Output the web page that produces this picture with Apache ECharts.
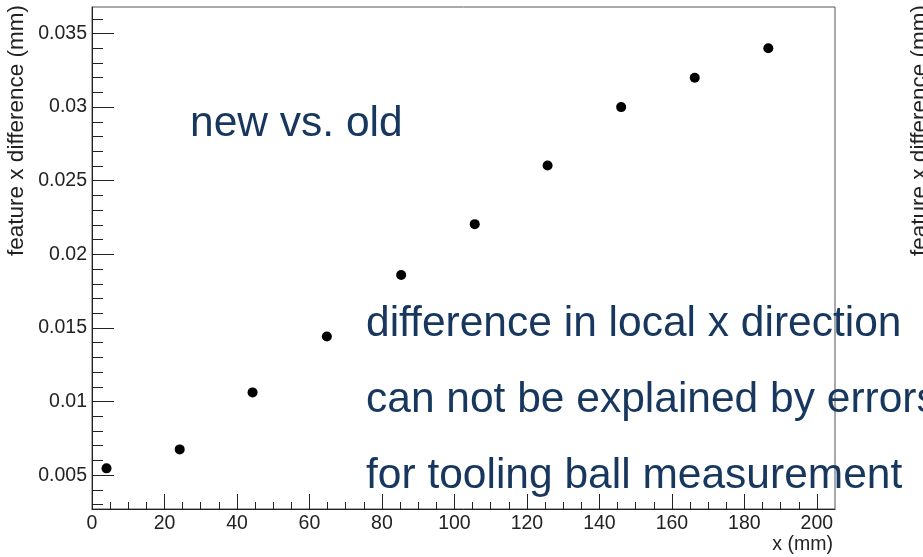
<!DOCTYPE html>
<html>
<head>
<meta charset="utf-8">
<script src="https://cdn.jsdelivr.net/npm/echarts@6/dist/echarts.min.js"></script>
<style>html,body{margin:0;padding:0;background:#fff}#c{width:923px;height:557px}</style>
</head>
<body>
<div id="c"></div>
<script>
// ---- data ----
const xValues = [4.0, 24.2, 44.3, 64.8, 85.3, 105.6, 125.7, 146.0, 166.3, 186.6];
const yValues = [0.00546, 0.00675, 0.01062, 0.01442, 0.0186, 0.02205, 0.02603, 0.0300, 0.0320, 0.0340];
const xMajorTicks = [0, 20, 40, 60, 80, 100, 120, 140, 160, 180, 200];
const xMinorTicks = [0, 5, 10, 15, 20, 25, 30, 35, 40, 45, 50, 55, 60, 65, 70, 75, 80, 85, 90, 95, 100,
  105, 110, 115, 120, 125, 130, 135, 140, 145, 150, 155, 160, 165, 170, 175, 180, 185, 190, 195, 200];
const yMajorTicks = [0.005, 0.01, 0.015, 0.02, 0.025, 0.03, 0.035];
const yMinorTicks = [0.003, 0.004, 0.005, 0.006, 0.007, 0.008, 0.009, 0.01, 0.011, 0.012, 0.013, 0.014,
  0.015, 0.016, 0.017, 0.018, 0.019, 0.02, 0.021, 0.022, 0.023, 0.024, 0.025, 0.026, 0.027, 0.028,
  0.029, 0.03, 0.031, 0.032, 0.033, 0.034, 0.035, 0.036];
const xTitle = 'x (mm)';
const yTitle = 'feature x difference (mm)';
const overlayTitle = 'new vs. old';
const noteLines = ['difference in local x direction', 'can not be explained by errors', 'for tooling ball measurement'];

const points = xValues.map((x, i) => [x, yValues[i]]);
const FONT = 'Liberation Sans, Arial, Helvetica, sans-serif';
const AX = '#222';
const NAVY = '#17375e';

const chart = echarts.init(document.getElementById('c'), null, {renderer: 'canvas'});
const xRange = {min: 0, max: 205};
const yRange = {min: 0.0027, max: 0.0368};

chart.setOption({
  animation: false,
  backgroundColor: '#fff',
  grid: {left: 92, right: 88, top: 7, bottom: 48, containLabel: false, outerBoundsMode: 'none',
    show: true, borderColor: '#555', borderWidth: 1},
  xAxis: [
    Object.assign({type: 'value', position: 'bottom',
      axisLine: {show: true, lineStyle: {color: AX, width: 1}},
      axisTick: {show: true, inside: true, length: 15, customValues: xMajorTicks, lineStyle: {color: AX}},
      axisLabel: {show: true, customValues: xMajorTicks, margin: 5, color: AX, fontSize: 19.5, fontFamily: FONT},
      splitLine: {show: false}}, xRange),
    Object.assign({type: 'value', position: 'bottom',
      axisLine: {show: false},
      axisTick: {show: true, inside: true, length: 7, customValues: xMinorTicks, lineStyle: {color: AX}},
      axisLabel: {show: false},
      splitLine: {show: false}}, xRange)
  ],
  yAxis: [
    Object.assign({type: 'value', position: 'left',
      axisLine: {show: true, lineStyle: {color: AX, width: 1}},
      axisTick: {show: true, inside: true, length: 22, customValues: yMajorTicks, lineStyle: {color: AX}},
      axisLabel: {show: true, customValues: yMajorTicks, margin: 5, color: AX, fontSize: 19.5, fontFamily: FONT,
        formatter: v => String(+v.toFixed(4))},
      splitLine: {show: false}}, yRange),
    Object.assign({type: 'value', position: 'left',
      axisLine: {show: false},
      axisTick: {show: true, inside: true, length: 11, customValues: yMinorTicks, lineStyle: {color: AX}},
      axisLabel: {show: false},
      splitLine: {show: false}}, yRange)
  ],
  series: [{
    type: 'scatter', xAxisIndex: 0, yAxisIndex: 0, data: points,
    symbol: 'circle', symbolSize: 10, itemStyle: {color: '#000', opacity: 1}, z: 5
  }],
  graphic: [
    {type: 'text', x: 17, y: 5, rotation: Math.PI / 2,
      style: {text: yTitle, fill: AX, font: '22.5px ' + FONT, align: 'right', verticalAlign: 'middle'}},
    {type: 'text', x: 920, y: 5, rotation: Math.PI / 2,
      style: {text: yTitle, fill: AX, font: '22.5px ' + FONT, align: 'right', verticalAlign: 'middle'}},
    {type: 'text', x: 833, y: 545,
      style: {text: xTitle, fill: AX, font: '19.5px ' + FONT, align: 'right', verticalAlign: 'middle'}},
    {type: 'text', x: 190, y: 124, z: 10,
      style: {text: overlayTitle, fill: NAVY, font: '42.5px ' + FONT, align: 'left', verticalAlign: 'middle'}},
    {type: 'text', x: 366, y: 324, z: 10,
      style: {text: noteLines[0], fill: NAVY, font: '42.5px ' + FONT, align: 'left', verticalAlign: 'middle'}},
    {type: 'text', x: 366, y: 400, z: 10,
      style: {text: noteLines[1], fill: NAVY, font: '42.5px ' + FONT, align: 'left', verticalAlign: 'middle'}},
    {type: 'text', x: 366, y: 476, z: 10,
      style: {text: noteLines[2], fill: NAVY, font: '42.5px ' + FONT, align: 'left', verticalAlign: 'middle'}}
  ]
});
</script>
</body>
</html>
